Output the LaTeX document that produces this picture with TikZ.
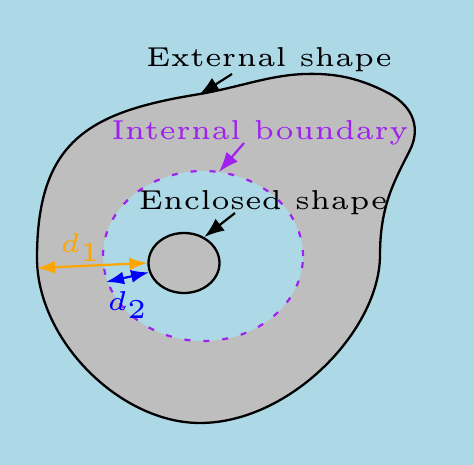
\documentclass[tikz,border=0pt]{standalone}
\usetikzlibrary{arrows.meta,shapes.geometric}
\definecolor{bgblue}{RGB}{173,216,230}
\definecolor{shapegray}{RGB}{190,190,190}
\definecolor{bpurple}{RGB}{160,32,240}
\definecolor{dorange}{RGB}{255,165,0}
\definecolor{dblue}{RGB}{0,0,255}
\newcommand\lblsize[1]{\scalebox{5.47}{\fontsize{5}{6}\selectfont #1}}
\tikzset{
  lbl/.style={inner sep=0pt, anchor=base},
  ptr/.style={line width=2.2pt, -{Latex[length=20pt,width=15pt]}},
  dim/.style={line width=2.2pt, {Latex[length=18pt,width=13pt]}-{Latex[length=18pt,width=13pt]}},
}
\begin{document}
\begin{tikzpicture}[x=1pt,y=-1pt]
\fill[bgblue] (0,0) rectangle (474,465);
\useasboundingbox (0,0) rectangle (474,465);
% outer shape
\draw[line width=2.3pt, fill=shapegray]
  (200,94) .. controls (90,111.6) and (37,140) .. (37,258)
  .. controls (37,340) and (120,423) .. (200,423)
  .. controls (290,423) and (380,330) .. (380,255)
  .. controls (380,205) and (395,180) .. (410,150)
  .. controls (420,130) and (415,108) .. (390,94)
  .. controls (360,78) and (335,73) .. (305,74)
  .. controls (270,75) and (240,87) .. cycle;
% internal boundary
\node[ellipse, draw=bpurple, fill=bgblue, line width=2.2pt, dash pattern=on 6pt off 13pt,
  minimum width=200pt, minimum height=170pt, inner sep=0pt] (inner) at (203,256) {};
% enclosed shape
\node[ellipse, draw=black, fill=shapegray, line width=2.3pt,
  minimum width=71pt, minimum height=60pt, inner sep=0pt] (small) at (184,263) {};
% labels
\node[lbl] (ext) at (269,67) {\lblsize{External shape}};
\node[lbl, text=bpurple] (int) at (260,140) {\lblsize{Internal boundary}};
\node[lbl] (enc) at (263,210) {\lblsize{Enclosed shape}};
\coordinate (extstart) at (232,74);
\coordinate (exttip) at (199,95);
\coordinate (intstart) at (244,143);
\coordinate (inttip) at (219,172);
\coordinate (encstart) at (235,213);
\coordinate (outerleft) at (37,268);
\coordinate (innerpt) at (106,282);
\draw[ptr] (extstart) -- (exttip);
\draw[ptr, bpurple] (intstart) -- (inttip);
\draw[ptr] (encstart) -- (small.52);
\draw[dim, dorange] (outerleft) -- (small.west);
\draw[dim, dblue] (innerpt) -- (small.195);
\node[lbl, anchor=base west, text=dorange] (d1) at (60,253) {\lblsize{$d_1$}};
\node[lbl, anchor=base west, text=dblue] (d2) at (107,310) {\lblsize{$d_2$}};
\end{tikzpicture}
\end{document}
